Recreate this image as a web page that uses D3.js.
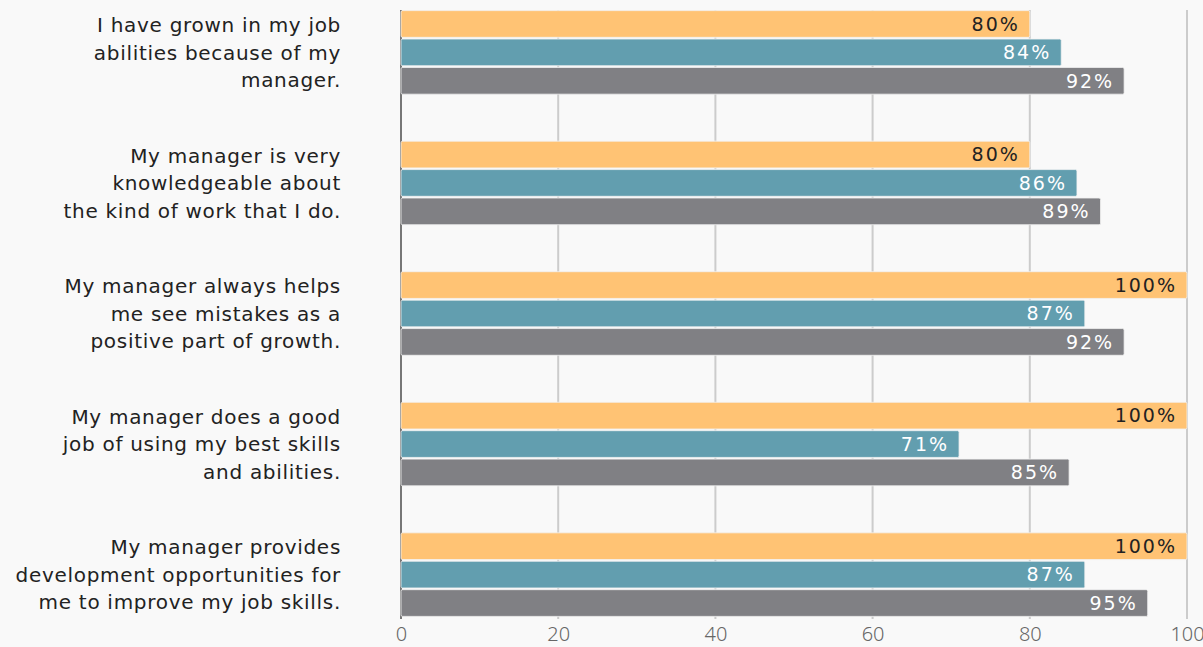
<!DOCTYPE html>
<html>
<head>
<meta charset="utf-8">
<script src="https://cdn.jsdelivr.net/npm/d3@7"></script>
<style>
  html, body { margin: 0; padding: 0; background: #f9f9f9; }
  svg { display: block; font-family: "DejaVu Sans", sans-serif; }
</style>
</head>
<body>
<div id="bar-chart"></div>
<script>
// categories (each one split into its label lines)
const categories = [
  ["I have grown in my job", "abilities because of my", "manager."],
  ["My manager is very", "knowledgeable about", "the kind of work that I do."],
  ["My manager always helps", "me see mistakes as a", "positive part of growth."],
  ["My manager does a good", "job of using my best skills", "and abilities."],
  ["My manager provides", "development opportunities for", "me to improve my job skills."]
];

// three series, one value per category (percent)
const seriesNames = ["s1", "s2", "s3"];
const series1 = [80, 80, 100, 100, 100];
const series2 = [84, 86, 87, 71, 87];
const series3 = [92, 89, 92, 85, 95];

const xTicks = [0, 20, 40, 60, 80, 100];

function draw() {
  const width = 1203;
  const height = 647;
  const margin = {top: 8, right: 16, bottom: 28, left: 401};

  const svg = d3.select("#bar-chart")
    .append("svg")
    .attr("width", width)
    .attr("height", height)
    .attr("viewBox", [0, 0, width, height]);

  const colors = ["#ffc374", "#629eaf", "#808084"];
  const labelColors = ["#222222", "#ffffff", "#ffffff"];

  // build rows from the arrays
  const rows = categories.map((c, i) => ({
    id: i,
    lines: c,
    values: [series1[i], series2[i], series3[i]]
  }));

  const xScale = d3.scaleLinear()
    .domain([0, 100])
    .range([margin.left, width - margin.right]);

  const yScale = d3.scaleBand()
    .domain(rows.map(d => d.id))
    .range([margin.top, height - margin.bottom])
    .paddingInner(0.36)
    .paddingOuter(0.02);

  const ySub = d3.scaleBand()
    .domain(seriesNames)
    .range([0, yScale.bandwidth()])
    .paddingInner(0.06);

  // vertical grid lines
  svg.append("g")
    .selectAll("line")
    .data(xTicks.slice(1))
    .join("line")
    .attr("x1", d => xScale(d))
    .attr("x2", d => xScale(d))
    .attr("y1", margin.top + 2)
    .attr("y2", height - margin.bottom)
    .attr("stroke", "#cccccc")
    .attr("stroke-width", 2);

  // left axis line
  svg.append("line")
    .attr("x1", xScale(0))
    .attr("x2", xScale(0))
    .attr("y1", margin.top + 2)
    .attr("y2", height - margin.bottom)
    .attr("stroke", "#777777")
    .attr("stroke-width", 2);

  // bars
  const groups = svg.append("g")
    .selectAll("g")
    .data(rows)
    .join("g")
    .attr("transform", d => `translate(0, ${yScale(d.id)})`);

  const bars = groups.selectAll("g")
    .data(d => d.values.map((v, k) => ({key: seriesNames[k], k, v})))
    .join("g");

  bars.append("rect")
    .attr("x", xScale(0))
    .attr("y", d => ySub(d.key))
    .attr("width", d => xScale(d.v) - xScale(0))
    .attr("height", ySub.bandwidth())
    .attr("rx", 1.5)
    .attr("fill", d => colors[d.k])
    .attr("stroke", "#f3f3f3")
    .attr("stroke-width", 0.8);

  bars.append("text")
    .attr("x", d => xScale(d.v) - 10)
    .attr("y", d => ySub(d.key) + ySub.bandwidth() / 2)
    .attr("dy", "0.36em")
    .attr("text-anchor", "end")
    .attr("font-size", 19)
    .attr("letter-spacing", 2)
    .attr("fill", d => labelColors[d.k])
    .text(d => d.v + "%");

  // category labels
  const labels = svg.append("g")
    .selectAll("text")
    .data(rows)
    .join("text")
    .attr("text-anchor", "end")
    .attr("font-size", 20)
    .attr("letter-spacing", 0.7)
    .attr("fill", "#222222");

  labels.selectAll("tspan")
    .data(d => d.lines.map((l, j) => ({l, j, id: d.id})))
    .join("tspan")
    .attr("x", 341)
    .attr("y", d => yScale(d.id) + yScale.bandwidth() / 2 + (d.j - 1) * 27.5)
    .attr("dy", "0.36em")
    .text(d => d.l);

  // x axis
  const xAxis = d3.axisBottom(xScale)
    .tickValues(xTicks)
    .tickSize(0)
    .tickPadding(8);

  svg.append("g")
    .attr("transform", `translate(0, ${height - margin.bottom})`)
    .call(xAxis)
    .call(g => g.select(".domain").remove())
    .call(g => g.selectAll("text")
      .attr("font-family", "Noto Sans, sans-serif")
      .attr("font-size", 20)
      .attr("font-weight", 300)
      .attr("fill", "#666666"));
}

draw();
</script>
</body>
</html>
